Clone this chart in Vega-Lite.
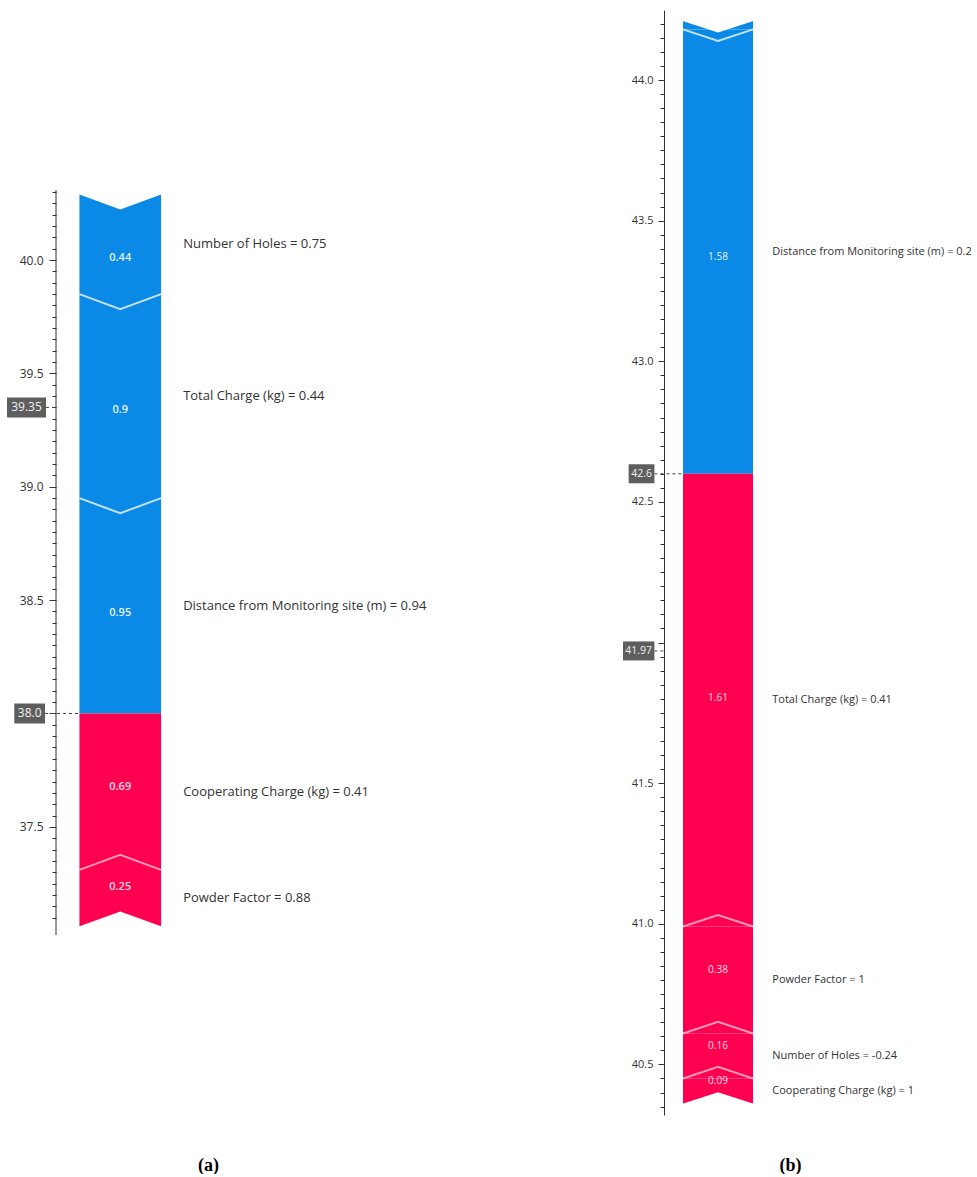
{
  "$schema": "https://vega.github.io/schema/vega-lite/v6.json",
  "padding": {"left": 6, "top": 10, "right": 0, "bottom": 0},
  "autosize": {"type": "pad"},
  "spacing": 21,
  "config": {
    "view": {"stroke": null},
    "font": "Open Sans",
    "axis": {"grid": false, "labelColor": "#333333", "tickColor": "#333333", "domainColor": "#333333", "labelOverlap": false, "labelFlush": false}
  },
  "datasets": {
    "a": [
      {"feature": "Number of Holes = 0.75", "value": 0.44, "lo": 39.85, "hi": 40.29, "push": "down"},
      {"feature": "Total Charge (kg) = 0.44", "value": 0.9, "lo": 38.95, "hi": 39.85, "push": "down"},
      {"feature": "Distance from Monitoring site (m) = 0.94", "value": 0.95, "lo": 38.0, "hi": 38.95, "push": "down"},
      {"feature": "Cooperating Charge (kg) = 0.41", "value": 0.69, "lo": 37.31, "hi": 38.0, "push": "up"},
      {"feature": "Powder Factor = 0.88", "value": 0.25, "lo": 37.06, "hi": 37.31, "push": "up"}
    ],
    "b": [
      {"feature": null, "value": 0.03, "lo": 44.18, "hi": 44.21, "push": "down"},
      {"feature": "Distance from Monitoring site (m) = 0.2", "value": 1.58, "lo": 42.6, "hi": 44.18, "push": "down"},
      {"feature": "Total Charge (kg) = 0.41", "value": 1.61, "lo": 40.99, "hi": 42.6, "push": "up"},
      {"feature": "Powder Factor = 1", "value": 0.38, "lo": 40.61, "hi": 40.99, "push": "up"},
      {"feature": "Number of Holes = -0.24", "value": 0.16, "lo": 40.45, "hi": 40.61, "push": "up"},
      {"feature": "Cooperating Charge (kg) = 1", "value": 0.09, "lo": 40.36, "hi": 40.45, "push": "up"}
    ],
    "refs_a": [
      {"kind": "base", "v": 39.35},
      {"kind": "output", "v": 38.0}
    ],
    "refs_b": [
      {"kind": "base", "v": 41.97},
      {"kind": "output", "v": 42.6}
    ]
  },
  "hconcat": [
    {
      "width": 546,
      "height": 1105,
      "layer": [
        {
          "data": {"name": "a"},
          "mark": {"type": "rect"},
          "encoding": {
            "x": {"datum": -1, "type": "quantitative", "scale": {"domain": [-1.574, 11.8], "nice": false, "zero": false},
              "axis": {"labels": false, "ticks": false, "domain": false, "title": "(a)", "titleFont": "Liberation Serif", "titleFontWeight": "bold", "titleFontSize": 18, "titleColor": "#000000", "titleX": 152, "titleY": 50, "titleBaseline": "middle", "titleAlign": "center", "titleAnchor": null}},
            "x2": {"datum": 1},
            "y": {"field": "lo", "type": "quantitative", "scale": {"domain": [36.229, 41.103], "nice": false, "zero": false},
              "axis": {"title": null, "domain": false, "labelFontSize": 12, "labelPadding": 6, "tickCount": 500,
                "values": [37.1,37.15,37.2,37.25,37.3,37.35,37.4,37.45,37.5,37.55,37.6,37.65,37.7,37.75,37.8,37.85,37.9,37.95,38,38.05,38.1,38.15,38.2,38.25,38.3,38.35,38.4,38.45,38.5,38.55,38.6,38.65,38.7,38.75,38.8,38.85,38.9,38.95,39,39.05,39.1,39.15,39.2,39.25,39.3,39.35,39.4,39.45,39.5,39.55,39.6,39.65,39.7,39.75,39.8,39.85,39.9,39.95,40,40.05,40.1,40.15,40.2,40.25,40.3],
                "labelExpr": "abs(datum.value * 2 - round(datum.value * 2)) < 0.001 && abs(datum.value - 38) > 0.001 ? format(datum.value, '.1f') : ''",
                "tickSize": {"condition": {"test": "abs(datum.value * 2 - round(datum.value * 2)) < 0.001", "value": 7}, "value": 4}}},
            "y2": {"field": "hi"},
            "color": {"field": "push", "type": "nominal", "scale": {"domain": ["down", "up"], "range": ["#0A8AE6", "#FF0050"]}, "legend": null}
          }
        },
        {
          "data": {"name": "a"},
          "transform": [
            {"joinaggregate": [{"op": "max", "field": "hi", "as": "top"}, {"op": "min", "field": "lo", "as": "bottom"}], "groupby": ["push"]},
            {"filter": "datum.push == 'down' && datum.hi < datum.top"}
          ],
          "mark": {"type": "point", "shape": "M-1,0L0,0.37L1,0", "size": 6659, "filled": false, "stroke": "#ffffff", "strokeWidth": 2, "strokeOpacity": 0.75, "opacity": 1},
          "encoding": {"x": {"datum": 0, "type": "quantitative"}, "y": {"field": "hi", "type": "quantitative"}}
        },
        {
          "data": {"name": "a"},
          "transform": [
            {"joinaggregate": [{"op": "max", "field": "hi", "as": "top"}, {"op": "min", "field": "lo", "as": "bottom"}], "groupby": ["push"]},
            {"filter": "datum.push == 'up' && datum.lo > datum.bottom"}
          ],
          "mark": {"type": "point", "shape": "M-1,0L0,-0.37L1,0", "size": 6659, "filled": false, "stroke": "#ffffff", "strokeWidth": 2, "strokeOpacity": 0.6, "opacity": 1},
          "encoding": {"x": {"datum": 0, "type": "quantitative"}, "y": {"field": "lo", "type": "quantitative"}}
        },
        {
          "data": {"name": "a"},
          "transform": [
            {"joinaggregate": [{"op": "max", "field": "hi", "as": "top"}], "groupby": ["push"]},
            {"filter": "datum.push == 'down' && datum.hi == datum.top"}
          ],
          "mark": {"type": "point", "shape": "M-1.1,-0.03L0,0.37L1.1,-0.03Z", "size": 6659, "filled": true, "fill": "#ffffff", "strokeWidth": 0, "opacity": 1},
          "encoding": {"x": {"datum": 0, "type": "quantitative"}, "y": {"field": "hi", "type": "quantitative"}}
        },
        {
          "data": {"name": "a"},
          "transform": [
            {"joinaggregate": [{"op": "min", "field": "lo", "as": "bottom"}], "groupby": ["push"]},
            {"filter": "datum.push == 'up' && datum.lo == datum.bottom"}
          ],
          "mark": {"type": "point", "shape": "M-1.1,0.03L0,-0.37L1.1,0.03Z", "size": 6659, "filled": true, "fill": "#ffffff", "strokeWidth": 0, "opacity": 1},
          "encoding": {"x": {"datum": 0, "type": "quantitative"}, "y": {"field": "lo", "type": "quantitative"}}
        },
        {
          "data": {"name": "a"},
          "transform": [{"filter": "datum.push == 'down' && datum.lo != 38"}, {"fold": ["lo", "hi"], "as": ["end", "v"]}],
          "mark": {"type": "text", "dy": 14, "fontSize": 11, "fontWeight": 600, "color": "#ffffff", "opacity": 0.9},
          "encoding": {"x": {"datum": 0, "type": "quantitative"}, "y": {"field": "v", "aggregate": "mean", "type": "quantitative"}, "text": {"field": "value", "type": "nominal"}}
        },
        {
          "data": {"name": "a"},
          "transform": [{"filter": "datum.push == 'down' && datum.lo == 38"}, {"fold": ["lo", "hi"], "as": ["end", "v"]}],
          "mark": {"type": "text", "dy": 7, "fontSize": 11, "fontWeight": 600, "color": "#ffffff", "opacity": 0.9},
          "encoding": {"x": {"datum": 0, "type": "quantitative"}, "y": {"field": "v", "aggregate": "mean", "type": "quantitative"}, "text": {"field": "value", "type": "nominal"}}
        },
        {
          "data": {"name": "a"},
          "transform": [{"filter": "datum.push == 'up' && datum.hi == 38"}, {"fold": ["lo", "hi"], "as": ["end", "v"]}],
          "mark": {"type": "text", "dy": -5, "fontSize": 11, "fontWeight": 600, "color": "#ffffff", "opacity": 0.85},
          "encoding": {"x": {"datum": 0, "type": "quantitative"}, "y": {"field": "v", "aggregate": "mean", "type": "quantitative"}, "text": {"field": "value", "type": "nominal"}}
        },
        {
          "data": {"name": "a"},
          "transform": [{"filter": "datum.push == 'up' && datum.hi != 38"}, {"fold": ["lo", "hi"], "as": ["end", "v"]}],
          "mark": {"type": "text", "dy": -11, "fontSize": 11, "fontWeight": 600, "color": "#ffffff", "opacity": 0.85},
          "encoding": {"x": {"datum": 0, "type": "quantitative"}, "y": {"field": "v", "aggregate": "mean", "type": "quantitative"}, "text": {"field": "value", "type": "nominal"}}
        },
        {
          "data": {"name": "a"},
          "transform": [{"filter": "isValid(datum.feature)"}, {"fold": ["lo", "hi"], "as": ["end", "v"]}],
          "mark": {"type": "text", "align": "left", "baseline": "middle", "fontSize": 13, "color": "#333333"},
          "encoding": {"x": {"datum": 1.54, "type": "quantitative"}, "y": {"field": "v", "aggregate": "mean", "type": "quantitative"}, "text": {"field": "feature", "type": "nominal"}}
        },
        {
          "data": {"values": [{}]},
          "mark": {"type": "rule", "color": "#333333", "strokeWidth": 1},
          "encoding": {"x": {"datum": -1.574, "type": "quantitative"}, "y": {"datum": 37.022, "type": "quantitative"}, "y2": {"datum": 40.309}}
        },
        {
          "data": {"name": "refs_a"},
          "transform": [{"filter": "datum.kind == 'output'"}],
          "mark": {"type": "rule", "color": "#444444", "strokeDash": [3, 3], "strokeWidth": 1},
          "encoding": {"x": {"datum": -1.843, "type": "quantitative"}, "x2": {"datum": -1}, "y": {"field": "v", "type": "quantitative"}}
        },
        {
          "data": {"name": "refs_a"},
          "transform": [{"filter": "datum.kind == 'base'"}],
          "mark": {"type": "rule", "color": "#444444", "strokeDash": [3, 3], "strokeWidth": 1},
          "encoding": {"x": {"datum": -1.819, "type": "quantitative"}, "x2": {"datum": -1.574}, "y": {"field": "v", "type": "quantitative"}}
        },
        {
          "data": {"name": "refs_a"},
          "transform": [{"filter": "datum.kind == 'base'"}],
          "mark": {"type": "rect", "color": "#5E5E5E", "yOffset": -10, "y2Offset": 10},
          "encoding": {"x": {"datum": -2.775, "type": "quantitative"}, "x2": {"datum": -1.819}, "y": {"field": "v", "type": "quantitative"}, "y2": {"field": "v"}}
        },
        {
          "data": {"name": "refs_a"},
          "transform": [{"filter": "datum.kind == 'output'"}],
          "mark": {"type": "rect", "color": "#5E5E5E", "yOffset": -10, "y2Offset": 10},
          "encoding": {"x": {"datum": -2.596, "type": "quantitative"}, "x2": {"datum": -1.843}, "y": {"field": "v", "type": "quantitative"}, "y2": {"field": "v"}}
        },
        {
          "data": {"name": "refs_a"},
          "transform": [{"filter": "datum.kind == 'base'"}],
          "mark": {"type": "text", "align": "center", "baseline": "middle", "fontSize": 12, "color": "#f0f0f0"},
          "encoding": {"x": {"datum": -2.297, "type": "quantitative"}, "y": {"field": "v", "type": "quantitative"}, "text": {"field": "v", "type": "quantitative", "format": ".2f"}}
        },
        {
          "data": {"name": "refs_a"},
          "transform": [{"filter": "datum.kind == 'output'"}],
          "mark": {"type": "text", "align": "center", "baseline": "middle", "fontSize": 12, "color": "#f0f0f0"},
          "encoding": {"x": {"datum": -2.2195, "type": "quantitative"}, "y": {"field": "v", "type": "quantitative"}, "text": {"field": "v", "type": "quantitative", "format": ".1f"}}
        }
      ]
    },
    {
      "width": 314,
      "height": 1105,
      "layer": [
        {
          "data": {"name": "b"},
          "mark": {"type": "rect"},
          "encoding": {
            "x": {"datum": -1, "type": "quantitative", "scale": {"domain": [-1.543, 7.43], "nice": false, "zero": false},
              "axis": {"labels": false, "ticks": false, "domain": false, "title": "(b)", "titleFont": "Liberation Serif", "titleFontWeight": "bold", "titleFontSize": 18, "titleColor": "#000000", "titleX": 126, "titleY": 50, "titleBaseline": "middle", "titleAlign": "center", "titleAnchor": null}},
            "x2": {"datum": 1},
            "y": {"field": "lo", "type": "quantitative", "scale": {"domain": [40.32, 44.249], "nice": false, "zero": false},
              "axis": {"title": null, "domain": true, "labelFontSize": 11, "labelPadding": 5, "tickCount": 500,
                "values": [40.35,40.4,40.45,40.5,40.55,40.6,40.65,40.7,40.75,40.8,40.85,40.9,40.95,41,41.05,41.1,41.15,41.2,41.25,41.3,41.35,41.4,41.45,41.5,41.55,41.6,41.65,41.7,41.75,41.8,41.85,41.9,41.95,42,42.05,42.1,42.15,42.2,42.25,42.3,42.35,42.4,42.45,42.5,42.55,42.6,42.65,42.7,42.75,42.8,42.85,42.9,42.95,43,43.05,43.1,43.15,43.2,43.25,43.3,43.35,43.4,43.45,43.5,43.55,43.6,43.65,43.7,43.75,43.8,43.85,43.9,43.95,44,44.05,44.1,44.15,44.2],
                "labelExpr": "abs(datum.value * 2 - round(datum.value * 2)) < 0.001 && abs(datum.value - 42) > 0.001 ? format(datum.value, '.1f') : ''",
                "tickSize": {"condition": {"test": "abs(datum.value * 2 - round(datum.value * 2)) < 0.001", "value": 6}, "value": 4}}},
            "y2": {"field": "hi"},
            "color": {"field": "push", "type": "nominal", "scale": {"domain": ["down", "up"], "range": ["#0A8AE6", "#FF0050"]}, "legend": null}
          }
        },
        {
          "data": {"name": "b"},
          "transform": [
            {"joinaggregate": [{"op": "max", "field": "hi", "as": "top"}, {"op": "min", "field": "lo", "as": "bottom"}], "groupby": ["push"]},
            {"filter": "datum.push == 'down' && datum.hi < datum.top"}
          ],
          "mark": {"type": "point", "shape": "M-1,0L0,0.33L1,0", "size": 4900, "filled": false, "stroke": "#ffffff", "strokeWidth": 2, "strokeOpacity": 0.75, "opacity": 1},
          "encoding": {"x": {"datum": 0, "type": "quantitative"}, "y": {"field": "hi", "type": "quantitative"}}
        },
        {
          "data": {"name": "b"},
          "transform": [
            {"joinaggregate": [{"op": "max", "field": "hi", "as": "top"}, {"op": "min", "field": "lo", "as": "bottom"}], "groupby": ["push"]},
            {"filter": "datum.push == 'up' && datum.lo > datum.bottom"}
          ],
          "mark": {"type": "point", "shape": "M-1,0L0,-0.33L1,0", "size": 4900, "filled": false, "stroke": "#ffffff", "strokeWidth": 2, "strokeOpacity": 0.6, "opacity": 1},
          "encoding": {"x": {"datum": 0, "type": "quantitative"}, "y": {"field": "lo", "type": "quantitative"}}
        },
        {
          "data": {"name": "b"},
          "transform": [
            {"joinaggregate": [{"op": "max", "field": "hi", "as": "top"}], "groupby": ["push"]},
            {"filter": "datum.push == 'down' && datum.hi == datum.top"}
          ],
          "mark": {"type": "point", "shape": "M-1.1,-0.03L0,0.33L1.1,-0.03Z", "size": 4900, "filled": true, "fill": "#ffffff", "strokeWidth": 0, "opacity": 1},
          "encoding": {"x": {"datum": 0, "type": "quantitative"}, "y": {"field": "hi", "type": "quantitative"}}
        },
        {
          "data": {"name": "b"},
          "transform": [
            {"joinaggregate": [{"op": "min", "field": "lo", "as": "bottom"}], "groupby": ["push"]},
            {"filter": "datum.push == 'up' && datum.lo == datum.bottom"}
          ],
          "mark": {"type": "point", "shape": "M-1.1,0.03L0,-0.33L1.1,0.03Z", "size": 4900, "filled": true, "fill": "#ffffff", "strokeWidth": 0, "opacity": 1},
          "encoding": {"x": {"datum": 0, "type": "quantitative"}, "y": {"field": "lo", "type": "quantitative"}}
        },
        {
          "data": {"name": "b"},
          "transform": [{"filter": "isValid(datum.feature) && datum.push == 'down' && datum.lo == 42.6"}, {"fold": ["lo", "hi"], "as": ["end", "v"]}],
          "mark": {"type": "text", "dy": 5, "fontSize": 10, "fontWeight": 500, "color": "#ffffff", "opacity": 0.9},
          "encoding": {"x": {"datum": 0, "type": "quantitative"}, "y": {"field": "v", "aggregate": "mean", "type": "quantitative"}, "text": {"field": "value", "type": "nominal"}}
        },
        {
          "data": {"name": "b"},
          "transform": [{"filter": "datum.push == 'up' && datum.hi == 42.6"}, {"fold": ["lo", "hi"], "as": ["end", "v"]}],
          "mark": {"type": "text", "dy": -2, "fontSize": 10, "fontWeight": 500, "color": "#ffffff", "opacity": 0.85},
          "encoding": {"x": {"datum": 0, "type": "quantitative"}, "y": {"field": "v", "aggregate": "mean", "type": "quantitative"}, "text": {"field": "value", "type": "nominal"}}
        },
        {
          "data": {"name": "b"},
          "transform": [{"filter": "datum.push == 'up' && datum.hi != 42.6"}, {"fold": ["lo", "hi"], "as": ["end", "v"]}],
          "mark": {"type": "text", "dy": -10, "fontSize": 10, "fontWeight": 500, "color": "#ffffff", "opacity": 0.85},
          "encoding": {"x": {"datum": 0, "type": "quantitative"}, "y": {"field": "v", "aggregate": "mean", "type": "quantitative"}, "text": {"field": "value", "type": "nominal"}}
        },
        {
          "data": {"name": "b"},
          "transform": [{"filter": "isValid(datum.feature)"}, {"fold": ["lo", "hi"], "as": ["end", "v"]}],
          "mark": {"type": "text", "align": "left", "baseline": "middle", "fontSize": 11, "color": "#333333"},
          "encoding": {"x": {"datum": 1.551, "type": "quantitative"}, "y": {"field": "v", "aggregate": "mean", "type": "quantitative"}, "text": {"field": "feature", "type": "nominal"}}
        },
        {
          "data": {"name": "refs_b"},
          "transform": [{"filter": "datum.kind == 'output'"}],
          "mark": {"type": "rule", "color": "#444444", "strokeDash": [3, 3], "strokeWidth": 1},
          "encoding": {"x": {"datum": -1.817, "type": "quantitative"}, "x2": {"datum": -1}, "y": {"field": "v", "type": "quantitative"}}
        },
        {
          "data": {"name": "refs_b"},
          "transform": [{"filter": "datum.kind == 'base'"}],
          "mark": {"type": "rule", "color": "#444444", "strokeDash": [3, 3], "strokeWidth": 1},
          "encoding": {"x": {"datum": -1.817, "type": "quantitative"}, "x2": {"datum": -1.543}, "y": {"field": "v", "type": "quantitative"}}
        },
        {
          "data": {"name": "refs_b"},
          "transform": [{"filter": "datum.kind == 'base'"}],
          "mark": {"type": "rect", "color": "#5E5E5E", "yOffset": -9.5, "y2Offset": 9.5},
          "encoding": {"x": {"datum": -2.714, "type": "quantitative"}, "x2": {"datum": -1.817}, "y": {"field": "v", "type": "quantitative"}, "y2": {"field": "v"}}
        },
        {
          "data": {"name": "refs_b"},
          "transform": [{"filter": "datum.kind == 'output'"}],
          "mark": {"type": "rect", "color": "#5E5E5E", "yOffset": -9.5, "y2Offset": 9.5},
          "encoding": {"x": {"datum": -2.554, "type": "quantitative"}, "x2": {"datum": -1.817}, "y": {"field": "v", "type": "quantitative"}, "y2": {"field": "v"}}
        },
        {
          "data": {"name": "refs_b"},
          "transform": [{"filter": "datum.kind == 'base'"}],
          "mark": {"type": "text", "align": "center", "baseline": "middle", "fontSize": 10.5, "color": "#f0f0f0"},
          "encoding": {"x": {"datum": -2.2655, "type": "quantitative"}, "y": {"field": "v", "type": "quantitative"}, "text": {"field": "v", "type": "quantitative", "format": ".2f"}}
        },
        {
          "data": {"name": "refs_b"},
          "transform": [{"filter": "datum.kind == 'output'"}],
          "mark": {"type": "text", "align": "center", "baseline": "middle", "fontSize": 10.5, "color": "#f0f0f0"},
          "encoding": {"x": {"datum": -2.1855, "type": "quantitative"}, "y": {"field": "v", "type": "quantitative"}, "text": {"field": "v", "type": "quantitative", "format": ".1f"}}
        }
      ]
    }
  ]
}
